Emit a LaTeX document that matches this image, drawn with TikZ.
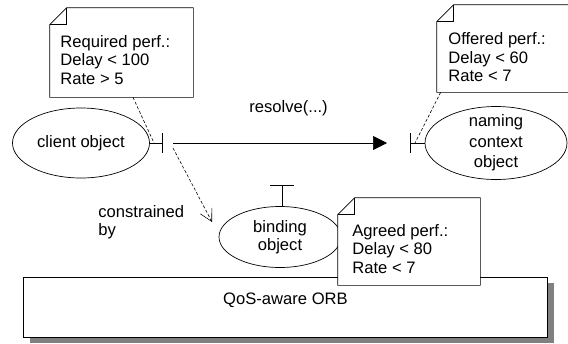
\documentclass[tikz,border=0pt]{standalone}
\usepackage{fontspec}
\setmainfont{Liberation Sans}
\usetikzlibrary{arrows.meta,shapes.geometric}

\newcommand{\notefont}{\fontsize{16.6}{18.5}\selectfont}
% dog-eared outline round a note node
\newcommand{\dogear}[1]{%
  \draw ([yshift=-17pt]#1.north west) -- ([xshift=17pt]#1.north west) -- (#1.north east)
        -- (#1.south east) -- (#1.south west) -- cycle;
  \draw ([yshift=-17pt]#1.north west) -- ([xshift=17pt,yshift=-17pt]#1.north west)
        -- ([xshift=17pt]#1.north west);}

\begin{document}
\begin{tikzpicture}[x=1pt, y=-1pt, line width=0.7pt, font=\notefont,
                    obj/.style={draw, ellipse, inner sep=0, align=center},
                    notebg/.style={fill=white, inner sep=0},
                    notetext/.style={anchor=west, align=left, inner sep=0},
                    dep/.style={dash pattern=on 3pt off 2pt, line width=0.6pt}]
    \useasboundingbox (0,0) rectangle (568,343);

    % the ORB
    \node (orbshadow) [fill=gray, inner sep=0, minimum width=524pt, minimum height=60pt] at (291.5,313) {};
    \node (orb) [draw, fill=white, inner sep=0, minimum width=524pt, minimum height=60pt] at (285.5,307) {};
    \node at ([yshift=7pt]orb.center) {QoS-aware ORB};

    % objects and their ports
    \node (client) [obj, minimum width=137pt, minimum height=70pt] at (81,143) {client object};
    \node (naming) [obj, minimum width=142pt, minimum height=73pt, inner ysep=-6pt,
                    font=\fontsize{16.6}{20.5}\selectfont] at (496,143) {naming\\context\\object};
    \node (binding) [obj, minimum width=122pt, minimum height=61pt] at (280,237) {binding\\object};

    \coordinate (cport) at (162,143);
    \coordinate (nport) at (410,143);
    \coordinate (bport) at (282,185);
    \draw (client) -- (cport);
    \draw ([yshift=10pt]cport) -- ([yshift=-10pt]cport);
    \draw (naming) -- (nport);
    \draw ([yshift=10pt]nport) -- ([yshift=-10pt]nport);
    \draw (binding.north -| bport) -- (bport);
    \draw ([xshift=-12pt]bport) -- ([xshift=12pt]bport);

    \draw [-{Triangle[length=14pt,width=14pt]}] ([xshift=11pt]cport) -- ([xshift=-23pt]nport)
          node [pos=0.54, yshift=35pt] {resolve(...)};

    \draw [dep, -{Straight Barb[length=12pt,width=13pt]}]
          ([shift={(11pt,-5pt)}]cport) -- ([shift={(-68pt,15pt)}]binding.center);
    \node (constr) [notetext] at (98,222) {constrained\\by};

    % notes
    \node (reqnote) [notebg, minimum width=143pt, minimum height=89pt] at (121.5,52.5) {};
    \dogear{reqnote}
    \node [notetext] at (60,60) {Required perf.:\\Delay < 100\\Rate > 5};
    \draw [dep] ([xshift=11.5pt]reqnote.south) -- ([xshift=-8pt]cport);

    \node (offnote) [notebg, minimum width=140pt, minimum height=87pt] at (507,48.5) {};
    \dogear{offnote}
    \node [notetext] at (448,57.5) {Offered perf.:\\Delay < 60\\Rate < 7};
    \draw [dep] ([xshift=4pt]offnote.south west) -- ([xshift=5pt]nport);

    \node (agrnote) [notebg, minimum width=142pt, minimum height=87pt] at (409,241.5) {};
    \dogear{agrnote}
    \node [notetext] at (352,249) {Agreed perf.:\\Delay < 80\\Rate < 7};
\end{tikzpicture}
\end{document}
